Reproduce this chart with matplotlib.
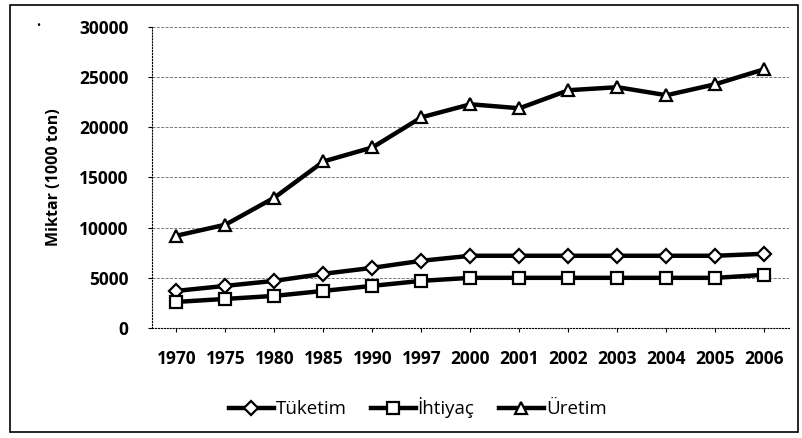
import numpy as np
import matplotlib.pyplot as plt
from matplotlib.patches import Rectangle

years = ["1970", "1975", "1980", "1985", "1990", "1997", "2000",
         "2001", "2002", "2003", "2004", "2005", "2006"]
tuketim = [3700, 4200, 4700, 5400, 6000, 6700, 7200, 7200, 7200, 7200, 7200, 7200, 7400]
ihtiyac = [2600, 2900, 3200, 3700, 4200, 4700, 5000, 5000, 5000, 5000, 5000, 5000, 5300]
uretim = [9200, 10300, 13000, 16600, 18000, 21000, 22300, 21900, 23700, 24000, 23200, 24300, 25800]

plt.rcParams['font.family'] = ['Open Sans', 'DejaVu Sans']

fig = plt.figure(figsize=(8.03, 4.38), dpi=100)
ax = fig.add_axes([152 / 803, 1 - 328 / 438, (789 - 152) / 803, (328 - 27) / 438])

x = np.arange(len(years))
style = dict(color='black', linewidth=3.2, markersize=9, markerfacecolor='white',
             markeredgecolor='black', markeredgewidth=1.6)
ax.plot(x, tuketim, marker='D', label='Tüketim', **{**style, 'markersize': 7.5})
ax.plot(x, ihtiyac, marker='s', label='İhtiyaç', **style)
ax.plot(x, uretim, marker='^', label='Üretim', **style)

ax.set_xlim(-0.5, len(years) - 0.5)
ax.set_ylim(0, 30000)
ax.set_yticks(range(0, 30001, 5000))
ax.set_xticks(x)
ax.set_xticklabels(years)
ax.yaxis.grid(True, linestyle=(0, (3, 1.5)), color='#777777', linewidth=0.7)
ax.set_axisbelow(True)
for side in ['top', 'right']:
    ax.spines[side].set_visible(False)
ax.spines['left'].set_linestyle(':')
ax.spines['bottom'].set_linestyle(':')
ax.tick_params(axis='both', length=3, labelsize=12.5)
for lbl in ax.get_xticklabels() + ax.get_yticklabels():
    lbl.set_fontweight('bold')
ax.tick_params(axis='x', pad=13)
ax.tick_params(axis='y', pad=14)
ax.set_ylabel('Miktar (1000 ton)', fontsize=11.5, fontweight='bold', labelpad=12)

fig.legend(loc='center', bbox_to_anchor=(0.52, 1 - 408 / 438), ncol=3, frameon=False,
           fontsize=13.5, handlelength=2.4, columnspacing=1.3, handletextpad=0.1)

fig.patches.append(Rectangle((10 / 803, 1 - 432 / 438), 788 / 803, 427 / 438,
                             transform=fig.transFigure, fill=False,
                             edgecolor='black', linewidth=1.2))
fig.text(38 / 803, 1 - 27 / 438, '•', fontsize=8, ha='center', va='center')

fig.savefig('out.png', dpi=100)
